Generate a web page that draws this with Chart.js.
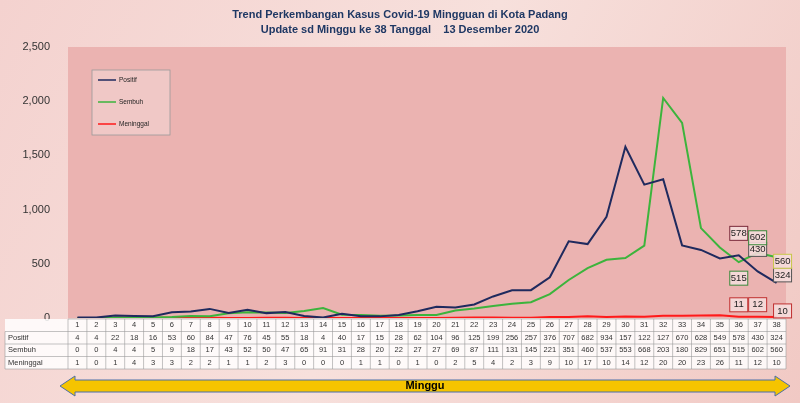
<!DOCTYPE html>
<html><head><meta charset="utf-8">
<script src="https://cdn.jsdelivr.net/npm/chart.js"></script>
<style>html,body{margin:0;padding:0;background:#fff}canvas{display:block}</style>
</head><body>
<canvas id="c" width="800" height="403" style="width:800px;height:403px"></canvas>
<script>
const weeks = ["1","2","3","4","5","6","7","8","9","10","11","12","13","14","15","16","17","18","19","20","21","22","23","24","25","26","27","28","29","30","31","32","33","34","35","36","37","38"];
const positif = [4,4,22,18,16,53,60,84,47,76,45,55,18,4,40,17,15,28,62,104,96,125,199,256,257,376,707,682,934,1580,1230,1280,670,628,549,578,430,324];
const sembuh = [0,0,4,4,5,9,18,17,43,52,50,47,65,91,31,28,20,22,27,27,69,87,111,131,145,221,351,460,537,553,668,2030,1800,829,651,515,602,560];
const meninggal = [1,0,1,4,3,3,2,2,1,1,2,3,0,0,0,1,1,0,1,0,2,5,4,2,3,9,10,17,10,14,12,20,20,23,26,11,12,10];
const tablePositif = ["4","4","22","18","16","53","60","84","47","76","45","55","18","4","40","17","15","28","62","104","96","125","199","256","257","376","707","682","934","157","122","127","670","628","549","578","430","324"];
const tableSembuh = ["0","0","4","4","5","9","18","17","43","52","50","47","65","91","31","28","20","22","27","27","69","87","111","131","145","221","351","460","537","553","668","203","180","829","651","515","602","560"];
const tableMeninggal = meninggal.map(String);
const yTicks = [0,500,1000,1500,2000,2500];

const deco = {
  id:'deco',
  beforeDraw(ch){
    const c=ch.ctx, a=ch.chartArea;
    const g=c.createLinearGradient(0,0,800,403);
    g.addColorStop(0,'#f4d2cf');g.addColorStop(0.5,'#f7e0dc');g.addColorStop(1,'#f1c9c4');
    c.fillStyle=g;c.fillRect(0,0,800,403);
    c.fillStyle='#ebb3b1';c.fillRect(a.left,a.top,a.right-a.left,a.bottom-a.top);
    c.fillStyle='#1f3864';c.font='bold 11px "Liberation Sans"';c.textAlign='center';c.textBaseline='middle';
    c.fillText('Trend Perkembangan Kasus Covid-19 Mingguan di Kota Padang',400,15);
    c.fillText('Update sd Minggu ke 38 Tanggal    13 Desember 2020',400,30);
  },
  afterDraw(ch){
    const c=ch.ctx,a=ch.chartArea,x=ch.scales.x,y=ch.scales.y;
    const w=(a.right-a.left)/weeks.length;
    const rows=[['',weeks],['Positif',tablePositif],['Sembuh',tableSembuh],['Meninggal',tableMeninggal]];
    const top=a.bottom+1,rh=12.5;
    c.fillStyle='rgba(255,255,255,0.85)';c.fillRect(5,top,a.right-5,rh*4);
    c.strokeStyle='#9a9a9a';c.lineWidth=0.6;
    for(let r=0;r<=4;r++){c.beginPath();c.moveTo(r==0?a.left:5,top+r*rh);c.lineTo(a.right,top+r*rh);c.stroke();}
    for(let i=0;i<=weeks.length;i++){const xx=a.left+i*w;c.beginPath();c.moveTo(xx,top);c.lineTo(xx,top+4*rh);c.stroke();}
    c.beginPath();c.moveTo(5,top+rh);c.lineTo(5,top+4*rh);c.stroke();
    c.font='7.5px "Liberation Sans"';c.textBaseline='middle';c.fillStyle='#333';
    rows.forEach((r,ri)=>{
      const cy=top+ri*rh+rh/2;
      c.textAlign='left';c.fillText(r[0],8,cy);
      c.textAlign='center';
      r[1].forEach((v,i)=>c.fillText(v,x.getPixelForValue(i),cy));
    });
    c.fillStyle='#f0c8c6';c.strokeStyle='#999';c.lineWidth=0.8;
    c.fillRect(92,70,78,65);c.strokeRect(92,70,78,65);
    [['Positif','#1f2a5e',80],['Sembuh','#3cb43c',102],['Meninggal','#ff1a1a',124]].forEach(l=>{
      c.strokeStyle=l[1];c.lineWidth=1.5;c.beginPath();c.moveTo(98,l[2]);c.lineTo(116,l[2]);c.stroke();
      c.fillStyle='#222';c.font='6.5px "Liberation Sans"';c.textAlign='left';c.fillText(l[0],119,l[2]);
    });
    const ann=[[35,positif,'#7a2a3a',0,-22],[36,positif,'#555',0,-22],[37,positif,'#555',6,-8],
      [35,sembuh,'#3a8a3a',0,16],[36,sembuh,'#3a8a3a',0,-15],[37,sembuh,'#c8c84a',6,4],
      [35,meninggal,'#c03030',0,-12],[36,meninggal,'#c03030',0,-12],[37,meninggal,'#c03030',6,-6]];
    c.font='9.5px "Liberation Sans"';c.textAlign='center';
    ann.forEach(([i,arr,col,dx,dy])=>{
      const px=x.getPixelForValue(i)+dx,py=y.getPixelForValue(arr[i])+dy;
      c.fillStyle='rgba(245,220,220,0.9)';c.fillRect(px-9,py-7,18,14);
      c.strokeStyle=col;c.lineWidth=1;c.strokeRect(px-9,py-7,18,14);
      c.fillStyle='#222';c.fillText(String(arr[i]),px,py);
    });
    const ay=386;
    c.fillStyle='#f5c400';c.strokeStyle='#4a6ea8';c.lineWidth=1;
    c.beginPath();c.moveTo(60,ay);c.lineTo(75,ay-10);c.lineTo(75,ay-6);c.lineTo(775,ay-6);c.lineTo(775,ay-10);c.lineTo(790,ay);
    c.lineTo(775,ay+10);c.lineTo(775,ay+6);c.lineTo(75,ay+6);c.lineTo(75,ay+10);c.closePath();c.fill();c.stroke();
    c.fillStyle='#000';c.font='bold 11px "Liberation Sans"';c.fillText('Minggu',425,ay);
  }
};

new Chart(document.getElementById('c'),{
  type:'line',
  data:{labels:weeks,datasets:[
    {label:'Positif',data:positif,borderColor:'#1f2a5e',borderWidth:2,pointRadius:0,tension:0},
    {label:'Sembuh',data:sembuh,borderColor:'#3cb43c',borderWidth:2,pointRadius:0,tension:0},
    {label:'Meninggal',data:meninggal,borderColor:'#ff1a1a',borderWidth:2,pointRadius:0,tension:0}
  ]},
  options:{responsive:false,animation:false,devicePixelRatio:1,
    layout:{padding:{top:47,bottom:85,right:14,left:0}},
    plugins:{legend:{display:false},tooltip:{enabled:false}},
    scales:{
      x:{display:false,offset:true},
      y:{min:0,max:2500,afterBuildTicks(s){s.ticks=yTicks.map(v=>({value:v}));},
        afterFit(s){s.width=68;},
        grid:{display:false},border:{display:false},
        ticks:{color:'#333',font:{size:11,family:'Liberation Sans'},padding:10}}
    }},
  plugins:[deco]
});
</script>
</body></html>
